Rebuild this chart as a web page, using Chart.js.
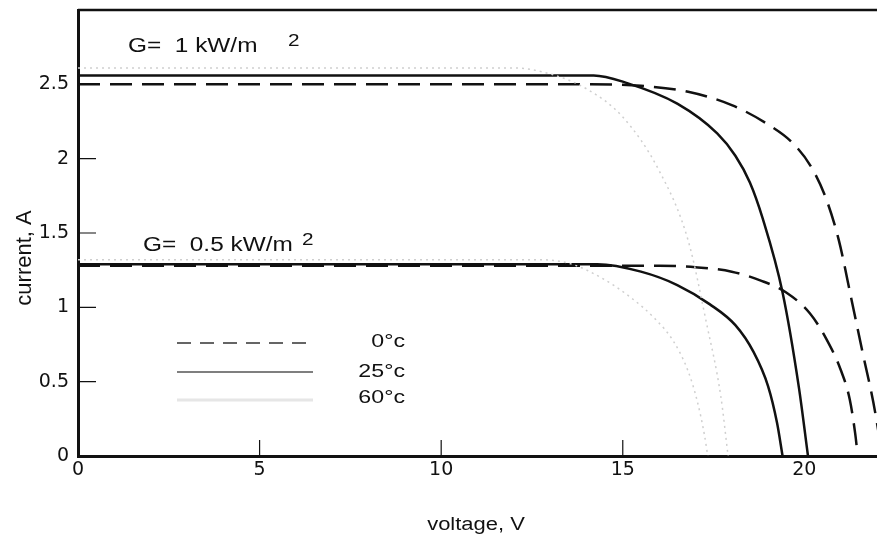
<!DOCTYPE html>
<html>
<head>
<meta charset="utf-8">
<script src="https://cdn.jsdelivr.net/npm/chart.js@4"></script>
<style>
  html, body { margin: 0; padding: 0; background: #fff; }
  canvas { display: block; }
</style>
</head>
<body>
<canvas id="chart" width="877" height="543"></canvas>
<script>
// Axis ticks
const xTicks = [0, 5, 10, 15, 20];
const yTicks = [0, 0.5, 1, 1.5, 2, 2.5];

// G = 1 kW/m2 curves (voltage V, current A)
const v1k0 = [0, 14, 15.5, 16.8, 18.0, 19.0, 19.7, 20.2, 20.6, 20.95, 21.3, 21.6, 21.9, 22.15];
const i1k0 = [2.5, 2.5, 2.49, 2.45, 2.36, 2.23, 2.1, 1.94, 1.73, 1.45, 1.05, 0.7, 0.36, 0];
const v1k25 = [0, 13, 14.2, 15.1, 16.5, 17.6, 18.1, 18.5, 18.85, 19.4, 19.85, 20.1];
const i1k25 = [2.56, 2.56, 2.56, 2.51, 2.37, 2.17, 2.02, 1.84, 1.6, 1.1, 0.46, 0];
const v1k60 = [0, 12, 13, 14, 15, 16, 16.8, 17.3, 17.7, 17.9];
const i1k60 = [2.61, 2.61, 2.57, 2.47, 2.28, 1.92, 1.45, 0.9, 0.4, 0];

// G = 0.5 kW/m2 curves
const vHalf0 = [0, 16.0, 17.0, 18.0, 18.8, 19.5, 20.15, 20.6, 21.0, 21.25, 21.4, 21.47];
const iHalf0 = [1.28, 1.28, 1.27, 1.24, 1.18, 1.1, 0.96, 0.79, 0.58, 0.38, 0.15, 0];
const vHalf25 = [0, 14.3, 15.5, 16.5, 17.4, 18.1, 18.6, 19.0, 19.25, 19.4];
const iHalf25 = [1.29, 1.29, 1.24, 1.15, 1.02, 0.88, 0.7, 0.47, 0.22, 0];
const vHalf60 = [0, 12.8, 13.6, 14.4, 15.2, 15.9, 16.4, 16.8, 17.05, 17.25, 17.34];
const iHalf60 = [1.32, 1.32, 1.29, 1.2, 1.07, 0.92, 0.77, 0.57, 0.37, 0.14, 0];

const legendLabels = ['0°c', '25°c', '60°c'];

function pts(v, c) {
    return v.map((x, k) => ({ x: x, y: c[k] }));
}

//Line styles per temperature
const styles = {
    t0: { borderColor: '#111', borderWidth: 2.5, borderDash: [22, 10] },
    t25: { borderColor: '#111', borderWidth: 2.5, borderDash: [] },
    t60: { borderColor: '#cfcfcf', borderWidth: 1.5, borderDash: [2, 4] }
};

function ds(v, c, st) {
    return Object.assign({
        data: pts(v, c),
        pointRadius: 0,
        fill: false,
        cubicInterpolationMode: 'monotone'
    }, st);
}

//Draws the frame extras, annotations and the legend box
const extras = {
    id: 'extras',
    afterDatasetsDraw(chart) {
        const ctx = chart.ctx;
        const a = chart.chartArea;
        const xs = chart.scales.x, ys = chart.scales.y;
        ctx.save();

        //top border
        ctx.strokeStyle = '#111';
        ctx.lineWidth = 2.5;
        ctx.beginPath();
        ctx.moveTo(a.left, a.top);
        ctx.lineTo(a.right, a.top);
        ctx.stroke();

        //inward tick marks
        ctx.lineWidth = 1.2;
        ctx.beginPath();
        yTicks.slice(1).forEach(v => {
            const p = ys.getPixelForValue(v);
            ctx.moveTo(a.left, p);
            ctx.lineTo(a.left + 18, p);
        });
        xTicks.slice(1, -1).forEach(v => {
            const p = xs.getPixelForValue(v);
            ctx.moveTo(p, a.bottom);
            ctx.lineTo(p, a.bottom - 16);
        });
        ctx.stroke();

        //stretched text helper
        function txt(s, x, y, size, align) {
            ctx.save();
            ctx.font = size + 'px "Liberation Sans", Arial, sans-serif';
            ctx.fillStyle = '#111';
            ctx.textBaseline = 'alphabetic';
            ctx.translate(x, y);
            ctx.scale(1.22, 1);
            ctx.textAlign = align || 'left';
            ctx.fillText(s, 0, 0);
            ctx.restore();
        }

        txt('G=  1 kW/m', 128, 52, 20);
        txt('2', 288, 46, 17);
        txt('G=  0.5 kW/m', 143, 251, 20);
        txt('2', 302, 245, 17);

        //legend
        const rows = [
            { y: 343, ty: 347, dash: [14, 9], w: 1.5, c: '#333' },
            { y: 372, ty: 377, dash: [], w: 1.5, c: '#555' },
            { y: 400, ty: 403, dash: [], w: 3, c: '#e6e6e6' }
        ];
        rows.forEach((r, k) => {
            ctx.strokeStyle = r.c;
            ctx.lineWidth = r.w;
            ctx.setLineDash(r.dash);
            ctx.beginPath();
            ctx.moveTo(177, r.y);
            ctx.lineTo(313, r.y);
            ctx.stroke();
            txt(legendLabels[k], 405, r.ty, 19, 'right');
        });
        ctx.setLineDash([]);

        //axis titles
        txt('voltage, V', 476, 530, 18, 'center');
        ctx.save();
        ctx.translate(31, 258);
        ctx.rotate(-Math.PI / 2);
        ctx.font = '22px "Liberation Sans", Arial, sans-serif';
        ctx.fillStyle = '#111';
        ctx.textAlign = 'center';
        ctx.fillText('current, A', 0, 0);
        ctx.restore();

        ctx.restore();
    }
};

let ctx = document.getElementById('chart').getContext('2d');

window.chart = new Chart(ctx, {
    type: 'line',
    data: {
        datasets: [
            ds(v1k60, i1k60, styles.t60),
            ds(vHalf60, iHalf60, styles.t60),
            ds(v1k0, i1k0, styles.t0),
            ds(v1k25, i1k25, styles.t25),
            ds(vHalf0, iHalf0, styles.t0),
            ds(vHalf25, iHalf25, styles.t25)
        ]
    },
    options: {
        responsive: false,
        animation: false,
        devicePixelRatio: 1,
        layout: { padding: { top: 10, right: 0, left: 0, bottom: 0 } },
        plugins: { legend: { display: false }, tooltip: { enabled: false } },
        scales: {
            x: {
                type: 'linear',
                min: 0,
                max: 22,
                afterBuildTicks: s => { s.ticks = xTicks.map(v => ({ value: v })); },
                afterFit: s => { s.height = 87; s.paddingLeft = 0; s.paddingRight = 0; },
                grid: { display: false, drawTicks: false },
                border: { display: true, color: '#111', width: 3 },
                ticks: {
                    color: '#111',
                    padding: 3,
                    maxRotation: 0,
                    autoSkip: false,
                    font: { family: 'DejaVu Sans', size: 19 },
                    callback: v => String(v)
                }
            },
            y: {
                type: 'linear',
                min: 0,
                max: 3.0,
                afterBuildTicks: s => { s.ticks = yTicks.map(v => ({ value: v })); },
                afterFit: s => { s.width = 78; s.paddingTop = 0; s.paddingBottom = 0; },
                grid: { display: false, drawTicks: false },
                border: { display: true, color: '#111', width: 3 },
                ticks: {
                    color: '#111',
                    padding: 9,
                    autoSkip: false,
                    font: { family: 'DejaVu Sans', size: 19 },
                    callback: v => String(v)
                }
            }
        }
    },
    plugins: [extras]
});
</script>
</body>
</html>
